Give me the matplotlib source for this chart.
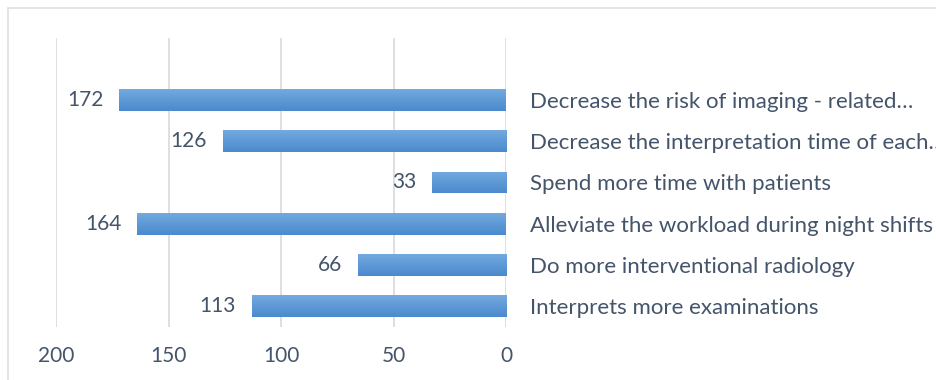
import matplotlib
matplotlib.use("Agg")
import matplotlib.pyplot as plt
from matplotlib.patches import Rectangle
from matplotlib.colors import LinearSegmentedColormap
import numpy as np

# survey answers, top row first
labels = [
    "Decrease the risk of imaging - related\u2026",
    "Decrease the interpretation time of each\u2026",
    "Spend more time with patients",
    "Alleviate the workload during night shifts",
    "Do more interventional radiology",
    "Interprets more examinations",
]
counts = [172, 126, 33, 164, 66, 113]
xticks = [200, 150, 100, 50, 0]

text_col = "#44546A"
grid_col = "#D9D9D9"
plt.rcParams["font.family"] = ["Lato", "DejaVu Sans"]

W, H = 936, 380
fig = plt.figure(figsize=(W / 100, H / 100), dpi=100)

# light frame around the chart (runs off the right and bottom edge)
fig.patches.append(Rectangle((8 / W, -0.1), 1.2, 1 - 8 / H + 0.1,
                             transform=fig.transFigure, fill=False,
                             edgecolor="#DFE2E7", linewidth=1.3))

ax = fig.add_axes([56 / W, 1 - 327 / H, (506 - 56) / W, (327 - 38) / H])

n = len(labels)
ypos = np.arange(n)[::-1]  # first label at the top
bars = ax.barh(ypos, counts, height=0.53, color="#5B9BD5", zorder=2)

# vertical gradient on each bar, lighter on top
cmap = LinearSegmentedColormap.from_list("barfade", ["#73A9DF", "#4A8ACD"])
grad = np.linspace(0, 1, 64).reshape(-1, 1)
for b in bars:
    x0, y0 = b.get_x(), b.get_y()
    im = ax.imshow(grad, cmap=cmap, aspect="auto", zorder=3,
                   extent=(x0, x0 + b.get_width(), y0, y0 + b.get_height()),
                   interpolation="bicubic")
    im.set_clip_path(b)

for y, v in zip(ypos, counts):
    ax.text(v + 7, y, str(v), ha="right", va="center", fontsize=15,
            color=text_col)

ax.set_xlim(200, 0)
# one empty slot above the first bar
ax.set_ylim(-0.5, n + 0.5)

ax.set_xticks(xticks)
ax.set_xticklabels([str(t) for t in xticks])
ax.set_yticks(ypos)
ax.set_yticklabels(labels)
ax.yaxis.tick_right()
ax.tick_params(axis="y", length=0, pad=17, labelsize=16, labelcolor=text_col)
ax.tick_params(axis="x", length=0, pad=14, labelsize=15, labelcolor=text_col)

ax.grid(axis="x", color=grid_col, linewidth=1.2, zorder=0)
for s in ax.spines.values():
    s.set_visible(False)

fig.savefig("out.png", dpi=100)
